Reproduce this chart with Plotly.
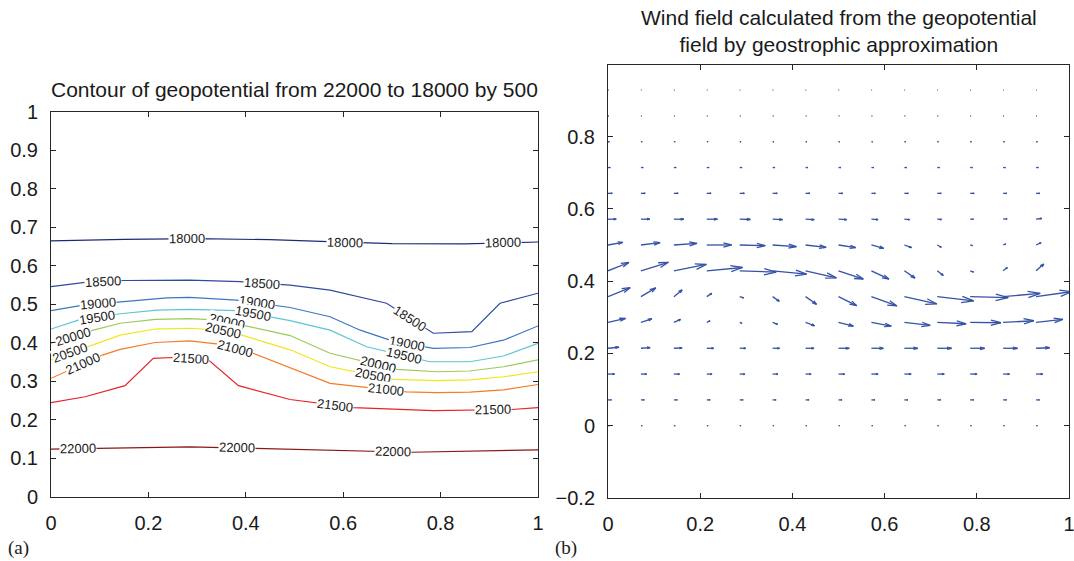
import math
import numpy as np
import plotly.graph_objects as go

# ---------------- Data: panel (a) contour lines of geopotential ----------------
LEVELS = [18000, 18500, 19000, 19500, 20000, 20500, 21000, 21500, 22000]

CX_18000 = [0, 0.15, 0.3, 0.45, 0.57, 0.7, 0.85, 1.0]
CY_18000 = [0.664, 0.668, 0.670, 0.667, 0.662, 0.657, 0.656, 0.661]

CX_18500 = [0, 0.07, 0.149, 0.285, 0.388, 0.491, 0.573, 0.689, 0.785, 0.864, 0.922, 1.0]
CY_18500 = [0.545, 0.556, 0.561, 0.562, 0.558, 0.549, 0.536, 0.502, 0.424, 0.428, 0.502, 0.528]

CX_19000 = [0, 0.066, 0.149, 0.238, 0.285, 0.381, 0.491, 0.573, 0.635, 0.696, 0.785, 0.860, 0.929, 1.0]
CY_19000 = [0.483, 0.497, 0.506, 0.516, 0.517, 0.510, 0.491, 0.467, 0.432, 0.406, 0.385, 0.387, 0.406, 0.443]

CX_19500 = [0, 0.056, 0.138, 0.217, 0.285, 0.381, 0.491, 0.573, 0.648, 0.778, 0.860, 0.929, 1.0]
CY_19500 = [0.435, 0.458, 0.474, 0.484, 0.486, 0.483, 0.457, 0.432, 0.389, 0.350, 0.350, 0.365, 0.398]

CX_20000 = [0, 0.087, 0.142, 0.214, 0.285, 0.347, 0.491, 0.573, 0.710, 0.792, 0.860, 0.929, 1.0]
CY_20000 = [0.398, 0.432, 0.450, 0.460, 0.462, 0.458, 0.418, 0.372, 0.330, 0.324, 0.326, 0.337, 0.355]

CX_20500 = [0, 0.080, 0.142, 0.214, 0.285, 0.347, 0.392, 0.491, 0.573, 0.703, 0.792, 0.860, 0.929, 1.0]
CY_20500 = [0.355, 0.391, 0.419, 0.435, 0.437, 0.432, 0.419, 0.381, 0.337, 0.304, 0.301, 0.303, 0.311, 0.324]

CX_21000 = [0, 0.107, 0.142, 0.214, 0.285, 0.344, 0.415, 0.491, 0.573, 0.730, 0.792, 0.860, 0.929, 1.0]
CY_21000 = [0.307, 0.368, 0.382, 0.400, 0.404, 0.396, 0.372, 0.335, 0.294, 0.272, 0.270, 0.271, 0.277, 0.291]

CX_21500 = [0, 0.070, 0.152, 0.210, 0.251, 0.323, 0.385, 0.491, 0.621, 0.785, 0.946, 1.0]
CY_21500 = [0.244, 0.259, 0.288, 0.359, 0.361, 0.355, 0.288, 0.252, 0.231, 0.223, 0.226, 0.231]

CX_22000 = [0, 0.094, 0.217, 0.285, 0.419, 0.491, 0.741, 1.0]
CY_22000 = [0.123, 0.125, 0.129, 0.129, 0.125, 0.123, 0.115, 0.121]

# x positions of the inline level labels
LABEL_X = {
    18000: [0.279, 0.604, 0.929],
    18500: [0.107, 0.433, 0.737],
    19000: [0.097, 0.422, 0.730],
    19500: [0.094, 0.415, 0.725],
    20000: [0.046, 0.361, 0.672],
    20500: [0.040, 0.354, 0.662],
    21000: [0.066, 0.378, 0.688],
    21500: [0.287, 0.583, 0.908],
    22000: [0.056, 0.381, 0.703],
}

# ---------------- Data: panel (b) geostrophic wind (x100, plot units) ----------------
GRID_X = [0.0, 0.0714, 0.1429, 0.2143, 0.2857, 0.3571, 0.4286, 0.5,
          0.5714, 0.6429, 0.7143, 0.7857, 0.8571, 0.9286, 1.0]
GRID_Y = [0.0, 0.0714, 0.1429, 0.2143, 0.2857, 0.3571, 0.4286, 0.5,
          0.5714, 0.6429, 0.7143, 0.7857, 0.8571, 0.9286]

U_WIND = [
    [0.28]*15,
    [0.75]*15,
    [1.44, 1.25, 1.23, 1.14, 1.12, 1.14, 1.19, 1.34, 1.44, 1.47, 1.51, 1.47, 1.40, 1.44, 1.40],
    [2.37, 2.00, 1.79, 1.49, 1.29, 1.51, 1.83, 2.33, 2.59, 2.91, 3.13, 3.15, 3.13, 2.95, 2.80],
    [3.81, 2.37, 1.44, 0.71, 0.50, 1.08, 1.94, 3.23, 4.31, 5.60, 6.25, 6.68, 6.68, 5.82, 5.39],
    [4.81, 3.23, 1.79, 1.08, 0.86, 1.44, 2.37, 3.94, 5.54, 7.05, 7.91, 8.25, 8.04, 7.76, 7.33],
    [4.53, 5.97, 7.05, 7.76, 7.91, 7.39, 6.68, 5.39, 3.81, 2.31, 1.29, 0.71, 0.93, 1.66, 1.94],
    [3.23, 4.16, 5.02, 5.39, 5.54, 5.17, 4.46, 3.73, 2.65, 1.57, 0.86, 0.50, 0.58, 1.08, 1.29],
    [1.79, 1.94, 2.16, 2.31, 2.31, 2.16, 1.88, 1.79, 1.44, 1.14, 0.93, 0.71, 0.86, 1.23, 1.29],
    [0.93, 0.93, 0.93, 0.93, 1.01, 1.01, 0.93, 0.93, 0.86, 0.86, 0.86, 0.86, 0.80, 0.80, 0.80],
    [0.50]*15,
    [0.28]*15,
    [0.17]*15,
    [0.11]*15,
]
V_WIND = [
    [0.0]*15,
    [0.0]*15,
    [0.0]*15,
    [0.28, 0.19, 0.08, 0, 0, 0, 0, 0, 0, 0, 0, 0, 0, 0.14, 0.19],
    [1.11, 1.02, 0.83, 0.47, -0.28, -0.55, -0.91, -1.02, -1.02, -0.83, -0.36, -0.08, 0.47, 0.83, 0.97],
    [2.49, 2.41, 1.86, 0.91, -0.36, -1.30, -2.13, -2.49, -2.58, -2.02, -1.19, -0.28, 0.91, 1.39, 1.52],
    [2.30, 2.35, 1.75, 0.91, -0.36, -0.91, -1.94, -2.30, -2.30, -2.02, -1.30, -0.36, 0.91, 1.86, 2.22],
    [0.75, 0.64, 0.47, 0, -0.19, -0.47, -0.64, -0.75, -0.91, -0.75, -0.64, -0.19, 0.28, 0.64, 0.83],
    [0, 0, 0, 0, -0.08, -0.14, -0.14, -0.14, -0.14, -0.14, -0.08, 0, 0.08, 0.19, 0.22],
    [0.0]*15,
    [0.0]*15,
    [0.0]*15,
    [0.0]*15,
    [0.0]*15,
]

X_TICKS = [0, 0.2, 0.4, 0.6, 0.8, 1]
X_TICKTEXT = ["0", "0.2", "0.4", "0.6", "0.8", "1"]
YA_TICKS = [0, 0.1, 0.2, 0.3, 0.4, 0.5, 0.6, 0.7, 0.8, 0.9, 1]
YA_TICKTEXT = ["0", "0.1", "0.2", "0.3", "0.4", "0.5", "0.6", "0.7", "0.8", "0.9", "1"]
YB_TICKS = [-0.2, 0, 0.2, 0.4, 0.6, 0.8]
YB_TICKTEXT = ["\u22120.2", "0", "0.2", "0.4", "0.6", "0.8"]

TITLE_A = "Contour of geopotential from 22000 to 18000 by 500"
TITLE_B = "Wind field calculated from the geopotential<br>field by geostrophic approximation"

# ---------------- Styles ----------------
LEVEL_COLORS = ["#1d2a7a", "#2c4c9e", "#3a78c2", "#5cc6d2", "#9ccb57",
                "#f3e51c", "#f47b2b", "#e8222b", "#8a1717"]
ARROW_COLOR = "#3552a6"
FONT = "Liberation Sans, Arial, Helvetica, sans-serif"
AX_COLOR = "#262626"

W, H = 1074, 561
# axes placement (paper fractions)
A_DOM_X = [51 / W, 538 / W]
A_DOM_Y = [1 - 496.5 / H, 1 - 111.5 / H]
B_DOM_X = [608 / W, 1069 / W]
B_DOM_Y = [1 - 498 / H, 1 - 65 / H]

fig = go.Figure()

contours = {
    18000: (CX_18000, CY_18000), 18500: (CX_18500, CY_18500),
    19000: (CX_19000, CY_19000), 19500: (CX_19500, CY_19500),
    20000: (CX_20000, CY_20000), 20500: (CX_20500, CY_20500),
    21000: (CX_21000, CY_21000), 21500: (CX_21500, CY_21500),
    22000: (CX_22000, CY_22000),
}

px_per_x = (A_DOM_X[1] - A_DOM_X[0]) * W
px_per_y = (A_DOM_Y[1] - A_DOM_Y[0]) * H

annotations = []
for lev, col in zip(LEVELS, LEVEL_COLORS):
    cx, cy = contours[lev]
    fig.add_trace(go.Scatter(x=cx, y=cy, mode="lines", line=dict(color=col, width=1.2),
                             hoverinfo="skip", showlegend=False, xaxis="x", yaxis="y"))
    for lx in LABEL_X[lev]:
        ly = float(np.interp(lx, cx, cy))
        k = int(np.searchsorted(cx, lx))
        k = min(max(k, 1), len(cx) - 1)
        dx = (cx[k] - cx[k - 1]) * px_per_x
        dy = (cy[k] - cy[k - 1]) * px_per_y
        ang = -math.degrees(math.atan2(dy, dx))
        annotations.append(dict(x=lx, y=ly, xref="x", yref="y", text=str(lev),
                                showarrow=False, textangle=ang, bgcolor="white",
                                borderpad=0, font=dict(family=FONT, size=13, color="#1a1a1a")))

# quiver (MATLAB-style arrowheads)
ALPHA, BETA, SCALE = 0.33, 0.33, 0.01
qx, qy = [], []
for j, y0 in enumerate(GRID_Y):
    for i, x0 in enumerate(GRID_X):
        u = U_WIND[j][i] * SCALE
        v = V_WIND[j][i] * SCALE
        qx += [x0, x0 + u, None]
        qy += [y0, y0 + v, None]
        qx += [x0 + u - ALPHA * (u + BETA * v), x0 + u, x0 + u - ALPHA * (u - BETA * v), None]
        qy += [y0 + v - ALPHA * (v - BETA * u), y0 + v, y0 + v - ALPHA * (v + BETA * u), None]
fig.add_trace(go.Scatter(x=qx, y=qy, mode="lines", line=dict(color=ARROW_COLOR, width=1.3),
                         hoverinfo="skip", showlegend=False, xaxis="x2", yaxis="y2"))

axis_common = dict(showline=True, mirror="ticks", linecolor=AX_COLOR, linewidth=1,
                   ticks="inside", ticklen=5, tickwidth=1, tickcolor=AX_COLOR,
                   showgrid=False, zeroline=False, automargin=False,
                   ticklabeloverflow="allow",
                   tickfont=dict(family=FONT, size=20, color="#1a1a1a"))

annotations += [
    dict(text=TITLE_A, x=(A_DOM_X[0] + A_DOM_X[1]) / 2, y=1 - 90 / H, xref="paper", yref="paper",
         showarrow=False, xanchor="center", yanchor="middle",
         font=dict(family=FONT, size=21, color="#1a1a1a")),
    dict(text=TITLE_B, x=(B_DOM_X[0] + B_DOM_X[1]) / 2, y=1 - 31 / H, xref="paper", yref="paper",
         showarrow=False, xanchor="center", yanchor="middle",
         font=dict(family=FONT, size=21, color="#1a1a1a")),
    dict(text="(a)", x=18 / W, y=1 - 548 / H, xref="paper", yref="paper", showarrow=False,
         xanchor="center", yanchor="middle",
         font=dict(family="Liberation Serif, Times New Roman, serif", size=19, color="#1a1a1a")),
    dict(text="(b)", x=566 / W, y=1 - 548 / H, xref="paper", yref="paper", showarrow=False,
         xanchor="center", yanchor="middle",
         font=dict(family="Liberation Serif, Times New Roman, serif", size=19, color="#1a1a1a")),
]

fig.update_layout(
    width=W, height=H, margin=dict(l=0, r=0, t=0, b=0, autoexpand=False),
    paper_bgcolor="white", plot_bgcolor="white", showlegend=False,
    xaxis=dict(domain=A_DOM_X, range=[0, 1], anchor="y", tickvals=X_TICKS, ticktext=X_TICKTEXT,
               ticklabelstandoff=8, **axis_common),
    yaxis=dict(domain=A_DOM_Y, range=[0, 1], anchor="x", tickvals=YA_TICKS, ticktext=YA_TICKTEXT,
               ticklabelstandoff=8, **axis_common),
    xaxis2=dict(domain=B_DOM_X, range=[0, 1], anchor="y2", tickvals=X_TICKS, ticktext=X_TICKTEXT,
                ticklabelstandoff=8, **axis_common),
    yaxis2=dict(domain=B_DOM_Y, range=[-0.2, 0.998], anchor="x2", tickvals=YB_TICKS,
                ticktext=YB_TICKTEXT, ticklabelstandoff=8, **axis_common),
    annotations=annotations,
)

fig.write_html(
    "out.html",
    config={"displayModeBar": False},
    post_script="document.body.style.margin='0';document.body.style.overflow='hidden';",
)
